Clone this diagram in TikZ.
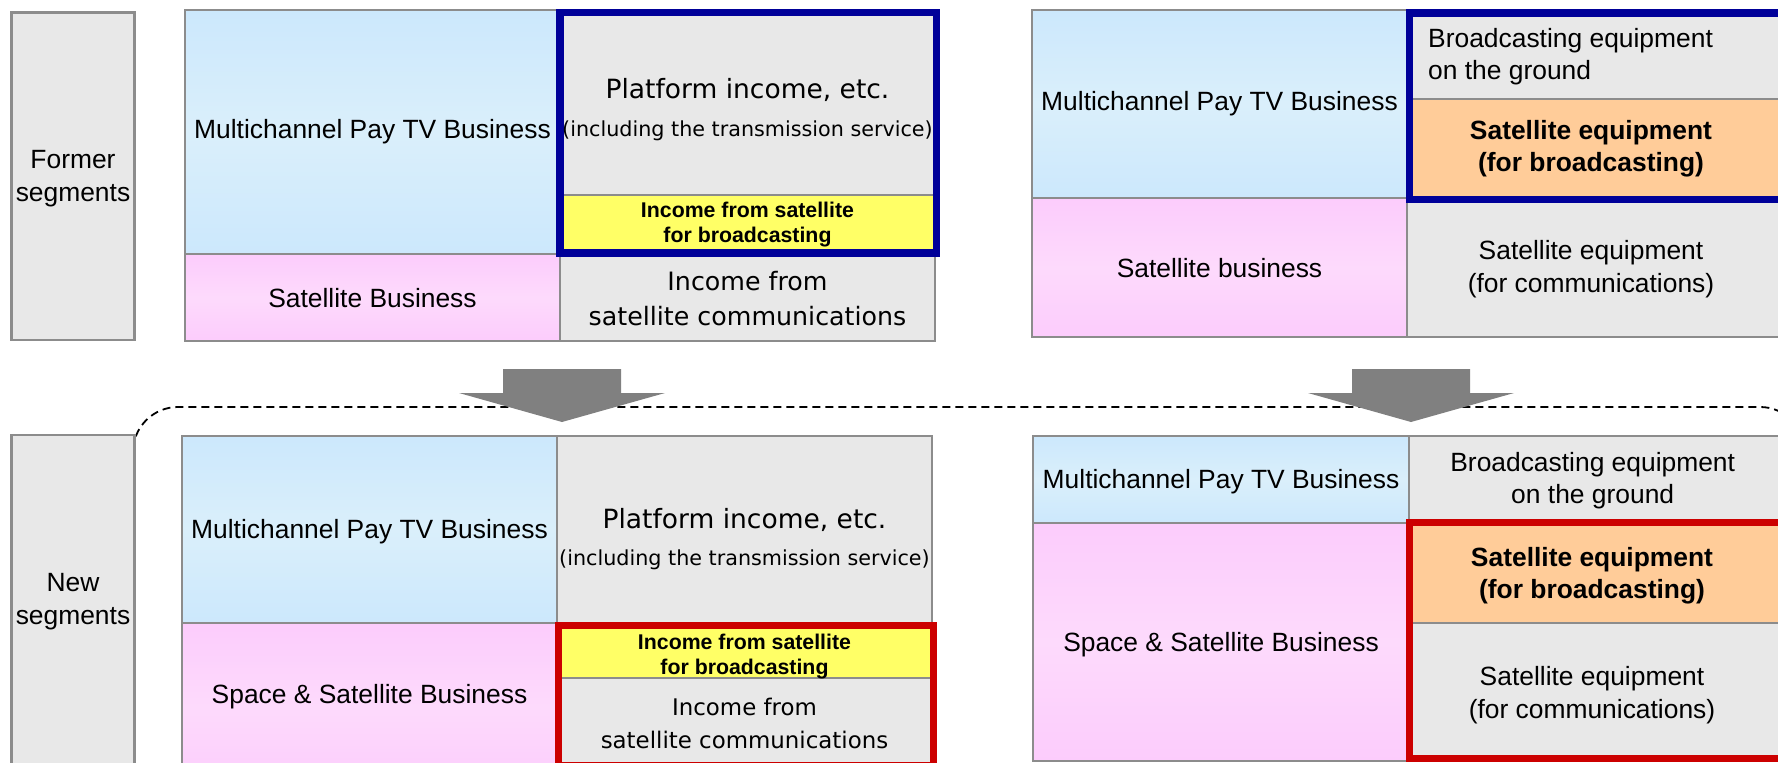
\documentclass[tikz,border=0pt]{standalone}
\usepackage{fontspec}
\setmainfont{Liberation Sans}
\newfontfamily\gothic{DejaVu Sans}
\usepackage{xcolor}

\definecolor{paytv}{HTML}{CCE8FC}
\definecolor{paytvmid}{HTML}{DAEFFB}
\definecolor{satpink}{HTML}{FCCCFC}
\definecolor{satpinkmid}{HTML}{FDDAFC}
\definecolor{incgrey}{HTML}{E8E8E8}
\definecolor{bcastyellow}{HTML}{FFFF66}
\definecolor{equiporange}{HTML}{FFCC99}
\definecolor{cellline}{HTML}{8C8C8C}
\definecolor{shiftgrey}{HTML}{808080}
\definecolor{oldframe}{HTML}{000099}
\definecolor{newframe}{HTML}{CC0000}

\begin{document}
\begin{tikzpicture}[x=1pt,y=-1pt]
\tikzstyle{cell}=[draw=cellline,line width=2.5pt]
\tikzstyle{paycell}=[cell,top color=paytv,bottom color=paytv,middle color=paytvmid]
\tikzstyle{satcell}=[cell,top color=satpink,bottom color=satpink,middle color=satpinkmid]
\tikzstyle{greycell}=[cell,fill=incgrey]
\tikzstyle{yellowcell}=[cell,fill=bcastyellow]
\tikzstyle{orangecell}=[cell,fill=equiporange]
\tikzstyle{txt}=[inner sep=0,align=center,font=\fontsize{26.4}{33}\selectfont]
\tikzstyle{boldtxt}=[txt,font=\fontsize{26.4}{32}\selectfont\bfseries]
\tikzstyle{smallbold}=[inner sep=0,align=center,font=\fontsize{21.3}{25}\selectfont\bfseries]
\useasboundingbox (0,0) rectangle (1778,763);

% dashed outline around the new segments
\draw[black,line width=1.8pt,dash pattern=on 8pt off 5pt,rounded corners=45pt]
  (133,800) -- (133,407) -- (1805,407) -- (1805,800);

% side labels
\draw[greycell] (11.5,12.5) rectangle (134.7,340);
\node[txt] (former) at (73,179) {Former\\segments};
\draw[greycell] (11.5,435) rectangle (134.7,790);
\node[txt] (newseg) at (73,602) {New\\segments};

% shift arrows
\fill[shiftgrey] (503,369) -- (621,369) -- (621,393) -- (665,393) -- (562,422)
  -- (459,393) -- (503,393) -- cycle;
\fill[shiftgrey] (1352,369) -- (1470,369) -- (1470,393) -- (1514,393) -- (1411,422)
  -- (1308,393) -- (1352,393) -- cycle;

% former segments, income side
\draw[paycell] (185,10) rectangle (560,254);
\draw[satcell] (185,254) rectangle (560,341);
\draw[greycell] (560,10) rectangle (935,195);
\draw[yellowcell] (560,195) rectangle (935,254);
\draw[greycell] (560,254) rectangle (935,341);
\draw[oldframe,line width=7.3pt] (560,12.5) rectangle (936.5,253);
\node[txt] (payA) at (372.5,132) {Multichannel Pay TV Business};
\node[txt] (satA) at (372.5,298) {Satellite Business};
\node[inner sep=0,font=\gothic\fontsize{26.5}{30}\selectfont] (platA) at (747.5,90) {Platform income, etc.};
\node[inner sep=0,font=\gothic\fontsize{20.7}{24}\selectfont] (platnoteA) at (747.5,131) {(including the transmission service)};
\node[smallbold] (bcastA) at (747.5,224.5) {Income from satellite\\for broadcasting};
\node[inner sep=0,align=center,font=\gothic\fontsize{25.3}{35}\selectfont] (commA) at (747.5,298.5) {Income from\\satellite communications};

% former segments, equipment side
\draw[paycell] (1032,10) rectangle (1407,198);
\draw[satcell] (1032,198) rectangle (1407,337);
\draw[greycell] (1407,10) rectangle (1800,99);
\draw[orangecell] (1407,99) rectangle (1800,198);
\draw[greycell] (1407,198) rectangle (1800,337);
\draw[oldframe,line width=7.3pt] (1409.5,13) rectangle (1795,199.5);
\node[txt] (payB) at (1219.5,104) {Multichannel Pay TV Business};
\node[txt] (satB) at (1219.5,268) {Satellite business};
\node[txt,anchor=west,align=left,font=\fontsize{26.4}{32}\selectfont] (groundB) at (1428,57) {Broadcasting equipment\\on the ground};
\node[boldtxt] (equipB) at (1591,149) {Satellite equipment\\(for broadcasting)};
\node[txt] (commB) at (1591,269.5) {Satellite equipment\\(for communications)};

% new segments, income side
\draw[paycell] (182,436) rectangle (557,623);
\draw[satcell] (182,623) rectangle (557,790);
\draw[greycell] (557,436) rectangle (932,625);
\draw[yellowcell] (557,625) rectangle (932,678);
\draw[greycell] (557,678) rectangle (932,790);
\draw[newframe,line width=7.3pt] (558.7,625.3) rectangle (933.7,766);
\node[txt] (payC) at (369.5,531.7) {Multichannel Pay TV Business};
\node[txt] (spaceC) at (369.5,696.7) {Space \& Satellite Business};
\node[inner sep=0,font=\gothic\fontsize{26.5}{30}\selectfont] (platC) at (744.5,520) {Platform income, etc.};
\node[inner sep=0,font=\gothic\fontsize{20.7}{24}\selectfont] (platnoteC) at (744.5,560) {(including the transmission service)};
\node[smallbold] (bcastC) at (744.5,656.5) {Income from satellite\\for broadcasting};
\node[inner sep=0,align=center,font=\gothic\fontsize{22.9}{33}\selectfont] (commC) at (744.5,723.5) {Income from\\satellite communications};

% new segments, equipment side
\draw[paycell] (1033,436) rectangle (1409,523);
\draw[satcell] (1033,523) rectangle (1409,761);
\draw[greycell] (1409,436) rectangle (1800,523);
\draw[orangecell] (1409,523) rectangle (1800,623);
\draw[greycell] (1409,623) rectangle (1800,761);
\draw[newframe,line width=7.3pt] (1409.6,522.8) rectangle (1795,758.5);
\node[txt] (payD) at (1221,481.7) {Multichannel Pay TV Business};
\node[txt,font=\fontsize{26.4}{32}\selectfont] (groundD) at (1592.7,481) {Broadcasting equipment\\on the ground};
\node[boldtxt] (equipD) at (1592,576) {Satellite equipment\\(for broadcasting)};
\node[txt] (spaceD) at (1221,645) {Space \& Satellite Business};
\node[txt] (commD) at (1592,695.5) {Satellite equipment\\(for communications)};
\end{tikzpicture}
\end{document}
